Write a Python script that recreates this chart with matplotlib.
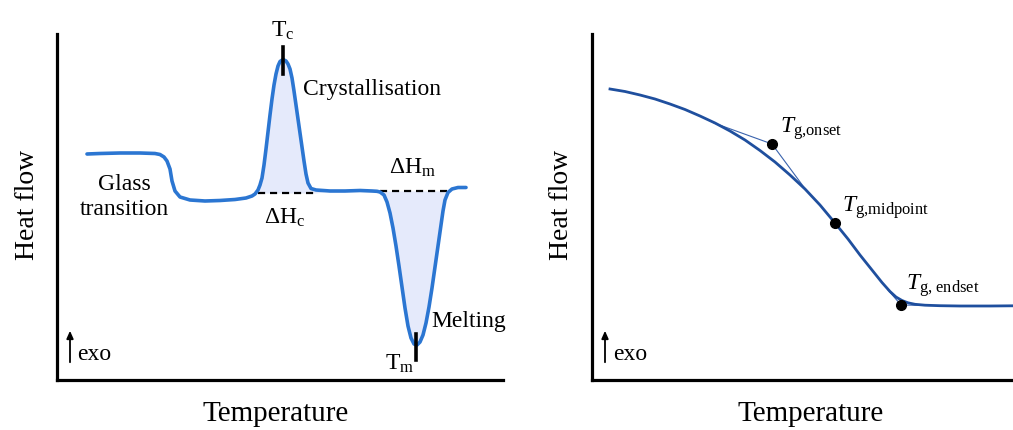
import matplotlib
matplotlib.use("Agg")
import matplotlib.pyplot as plt
import numpy as np

plt.rcParams['font.family'] = ['Liberation Serif', 'DejaVu Serif']
plt.rcParams['mathtext.fontset'] = 'custom'
plt.rcParams['mathtext.rm'] = 'Liberation Serif'
plt.rcParams['mathtext.it'] = 'Liberation Serif:italic'

# ---- data (pixel-like units) ----
dsc_x = [87, 100, 120, 140, 155, 160, 164, 167, 170, 172, 175, 180, 190, 205, 220, 235, 246, 252,
         255, 258, 260, 262, 264, 266, 268, 270, 272, 274, 276, 278, 280, 283, 286, 288, 290, 292,
         294, 296, 298, 300, 302, 304, 306, 308, 311, 316,
         330, 345, 360, 372, 377, 380, 384, 387, 390, 393, 396, 399, 402, 405, 408, 411, 414, 417,
         420, 423, 426, 429, 432, 435, 438, 441, 443, 445, 448, 452, 458, 466]
dsc_y = [155, 154.5, 154, 154, 154.5, 155.5, 158, 162, 170, 182, 192, 198, 201, 202, 201.5, 200.5, 199, 197,
         195, 191, 186, 179, 166, 150, 133, 116, 100, 86, 75, 67, 62.5, 60.5, 62, 65, 70, 79,
         92, 106, 120, 134, 148, 162, 175, 184, 189.5, 191,
         192, 192, 191.5, 192, 192.3, 193, 196, 203, 214, 229, 247, 267, 288, 309, 327, 339, 345, 346,
         343, 336, 324, 308, 289, 268, 247, 226, 212, 201, 193.5, 190, 188.5, 188.5]
cryst_base = 194
cryst_range = [258, 317]
melt_base = 192
melt_range = [380, 451]
tc_x, tc_span = 283, [48, 75]
tm_x, tm_span = 416, [335, 361]

tg_x = [610, 625, 640, 655, 670, 685, 700, 715, 730, 745, 760, 775, 790, 805, 820, 835, 848, 860,
        872, 882, 890, 896, 902, 908, 915, 925, 940, 960, 990, 1013]
tg_y = [90, 92.5, 96, 100, 105, 110.5, 117, 124, 132, 141, 151.5, 163, 176, 190, 206, 224, 240, 256,
        271, 283.5, 292.5, 298, 301.5, 303.8, 305.3, 306.2, 306.7, 307, 307, 306.8]
onset_pt = (772, 145)
mid_pt = (835, 224)
end_pt = (901, 306)
onset_tan_x = [714, 772, 806]
onset_tan_y = [124, 145, 191]
end_tan_x = [888, 901, 930]
end_tan_y = [291, 306, 306.5]

W, H = 1013, 431
fig = plt.figure(figsize=(W / 100, H / 100), dpi=100)

def make_ax(x0, x1, y0, y1):
    ax = fig.add_axes([x0 / W, (H - y1) / H, (x1 - x0) / W, (y1 - y0) / H])
    ax.set_xlim(x0, x1)
    ax.set_ylim(y1, y0)
    for s in ['top', 'right']:
        ax.spines[s].set_visible(False)
    for s in ['left', 'bottom']:
        ax.spines[s].set_linewidth(2.3)
    ax.set_xticks([])
    ax.set_yticks([])
    ax.patch.set_alpha(0)
    return ax

# ---- left panel ----
ax1 = make_ax(57, 503, 35, 381)
dx = np.array(dsc_x, float)
dy = np.array(dsc_y, float)
m1 = (dx >= cryst_range[0]) & (dx <= cryst_range[1])
ax1.fill_between(dx, dy, cryst_base, where=m1, color='#e5eafb', lw=0, interpolate=True)
m2 = (dx >= melt_range[0]) & (dx <= melt_range[1])
ax1.fill_between(dx, dy, melt_base, where=m2, color='#e5eafb', lw=0, interpolate=True)
ax1.plot(cryst_range, [cryst_base] * 2, color='black', lw=1.6, ls=(0, (3.2, 2.2)), clip_on=False)
ax1.plot(melt_range, [melt_base] * 2, color='black', lw=1.6, ls=(0, (3.2, 2.2)), clip_on=False)
ax1.plot(dx, dy, color='#2b76d2', lw=2.6, solid_capstyle='round', solid_joinstyle='round', clip_on=False)
ax1.plot([tc_x, tc_x], tc_span, color='black', lw=2.6, clip_on=False)
ax1.plot([tm_x, tm_x], tm_span, color='black', lw=2.6, clip_on=False)

fs = 17
ax1.text(tc_x, 31, r'$\mathrm{T_c}$', fontsize=fs, ha='center', va='center')
ax1.text(303, 89, 'Crystallisation', fontsize=fs, ha='left', va='center')
ax1.text(124, 197, 'Glass\ntransition', fontsize=fs, ha='center', va='center', linespacing=1.3)
ax1.text(285, 218, r'$\Delta\mathrm{H_c}$', fontsize=fs, ha='center', va='center')
ax1.text(413, 168, r'$\Delta\mathrm{H_m}$', fontsize=fs, ha='center', va='center')
ax1.text(431, 322, 'Melting', fontsize=fs, ha='left', va='center')
ax1.text(400, 364, r'$\mathrm{T_m}$', fontsize=fs, ha='center', va='center')
ax1.annotate('', xy=(70, 329), xytext=(70, 366),
             arrowprops=dict(arrowstyle='-|>,head_length=0.45,head_width=0.2', color='black', lw=1.3))
ax1.text(77, 354, 'exo', fontsize=fs, ha='left', va='center')
fig.text(27 / W, 1 - 205 / H, 'Heat flow', fontsize=20, rotation=90, ha='center', va='center')
fig.text(276 / W, 1 - 414 / H, 'Temperature', fontsize=21, ha='center', va='center')

# ---- right panel ----
ax2 = make_ax(592, 1013, 35, 381)
ax2.plot(onset_tan_x, onset_tan_y, color='#3a63ad', lw=0.8, clip_on=False)
ax2.plot(end_tan_x, end_tan_y, color='#3a63ad', lw=0.8, clip_on=False)
ax2.plot(tg_x, tg_y, color='#1f4f9e', lw=2.0, solid_joinstyle='round', clip_on=False)
for p in [onset_pt, mid_pt, end_pt]:
    ax2.plot([p[0]], [p[1]], 'o', color='black', ms=7, clip_on=False, zorder=5)
ax2.text(780, 129, r'$T_{\mathrm{g{,}onset}}$', fontsize=17, ha='left', va='center')
ax2.text(842, 208, r'$T_{\mathrm{g{,}midpoint}}$', fontsize=17, ha='left', va='center')
ax2.text(906, 286, r'$T_{\mathrm{g{,}\ endset}}$', fontsize=17, ha='left', va='center')
ax2.annotate('', xy=(605, 329), xytext=(605, 366),
             arrowprops=dict(arrowstyle='-|>,head_length=0.45,head_width=0.2', color='black', lw=1.3))
ax2.text(613, 354, 'exo', fontsize=fs, ha='left', va='center')
fig.text(561 / W, 1 - 205 / H, 'Heat flow', fontsize=20, rotation=90, ha='center', va='center')
fig.text(811 / W, 1 - 414 / H, 'Temperature', fontsize=21, ha='center', va='center')

fig.savefig('out.png', dpi=100)
